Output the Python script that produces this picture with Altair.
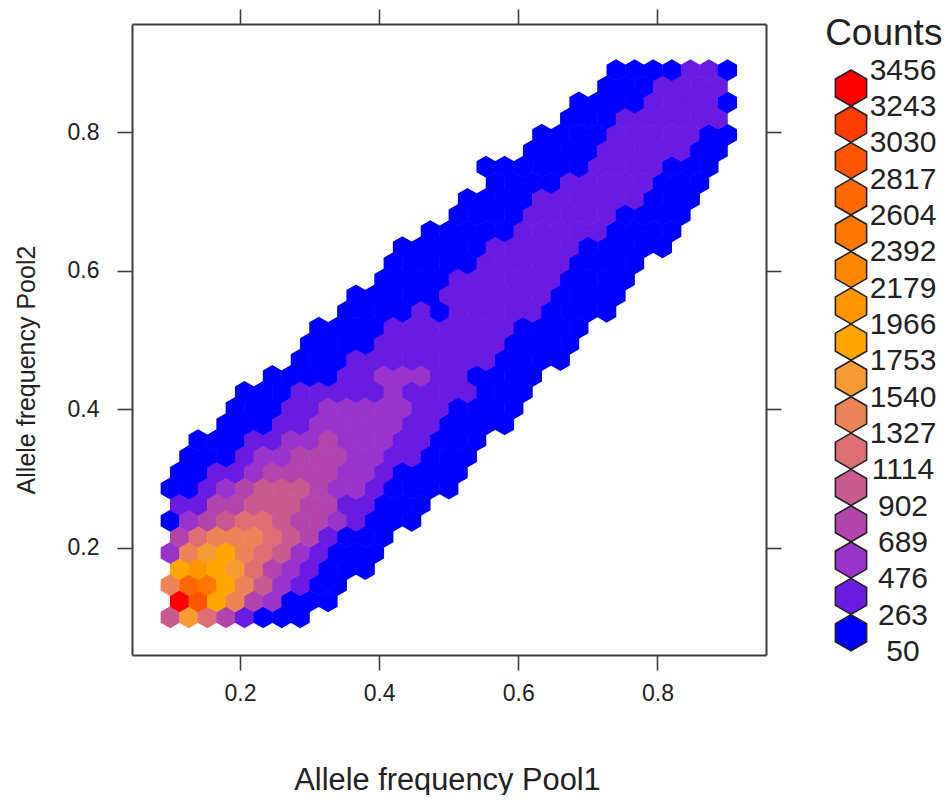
import altair as alt
import pandas as pd

# legend break labels, bottom to top
breaks = [50, 263, 476, 689, 902, 1114, 1327, 1540, 1753, 1966, 2179, 2392, 2604, 2817, 3030, 3243, 3456]
colors = ["#0000ff", "#6a1be2", "#9933cc", "#b245ac", "#c85a8e", "#de6e73", "#ec8458", "#f89a32",
          "#ffa500", "#ff9600", "#ff8700", "#ff7700", "#ff6800", "#ff5500", "#ff3c00", "#ff0000"]

# hexbin table: first bin of each row, and the legend class of each bin in that row (base 16)
row_starts = [0, 0, 0, 0, 0, 0, 0, 0, 0, 0, 1, 1, 3, 3, 4, 5, 7, 7, 8, 9, 10, 11, 12, 12, 14, 15, 16, 17, 17, 19, 20, 21, 22, 23, 24]
row_classes = [
    "47531000", "fd8632000", "6cb8642100", "89875321000", "267865421000", "356665431000",
    "02345543321000", "11334443311000", "0012344432210000", "0011233332210000",
    "0001223332211000", "0001122322211000", "0001122222110000", "0001122222110000",
    "0001111121111000", "000011222110000", "000111111110000", "000011111110000",
    "000011111110000", "000010111110000", "000001111110000", "00001111110000",
    "00000111110000", "000001111100000", "00000111110000", "0000111110000",
    "0000111111000", "000011111000", "0000001111000", "00001111100", "00001111100",
    "000111111", "000011110", "0001111", "0000110",
]

x0, dx = 0.0997, 0.0267
y0, dy = 0.0993, 0.02323

cells = []
for r, (start, codes) in enumerate(zip(row_starts, row_classes)):
    for i, c in enumerate(codes):
        cls = int(c, 16)
        cells.append({
            "pool1": x0 + (start + i + 0.5 * (r % 2)) * dx,
            "pool2": y0 + r * dy,
            "counts": (breaks[cls] + breaks[cls + 1]) / 2,
        })
hex_df = pd.DataFrame(cells)

HEX = "M0,-1L0.866,-0.5L0.866,0.5L0,1L-0.866,0.5L-0.866,-0.5Z"
FONT = "Liberation Sans"
INK = "#222222"
dom = [0.0448, 0.956]
ticks = [0.2, 0.4, 0.6, 0.8]
color_scale = alt.Scale(type="threshold", domain=breaks[1:-1], range=colors)

common = dict(domain=True, domainColor="#3c3c3c", domainWidth=2, ticks=True, tickColor="#3c3c3c",
              tickWidth=1.6, tickSize=15, grid=False, values=ticks, format=".1f")

hexes = alt.Chart(hex_df).mark_point(shape=HEX, filled=True, opacity=1, size=486, strokeWidth=0).encode(
    x=alt.X("pool1:Q", scale=alt.Scale(domain=dom, nice=False, zero=False),
            axis=alt.Axis(orient="bottom", title="Allele frequency Pool1", titleFont=FONT, titleFontSize=30.8,
                          titleFontWeight="normal", titleColor=INK, titlePadding=60, titleX=315,
                          labelFont=FONT, labelFontSize=23, labelColor=INK, labelPadding=12, **common)),
    y=alt.Y("pool2:Q", scale=alt.Scale(domain=dom, nice=False, zero=False),
            axis=alt.Axis(orient="left", title="Allele frequency Pool2", titleFont=FONT, titleFontSize=25,
                          titleFontWeight="normal", titleColor=INK, titlePadding=28, titleY=345.5,
                          labelFont=FONT, labelFontSize=23, labelColor=INK, labelPadding=18, **common)),
    fill=alt.Fill("counts:Q", scale=color_scale, legend=None),
)

frame = alt.Chart(hex_df).mark_point(opacity=0).encode(
    x=alt.X("pool1:Q", scale=alt.Scale(domain=dom, nice=False, zero=False),
            axis=alt.Axis(orient="top", title=None, labels=False, **common)),
    y=alt.Y("pool2:Q", scale=alt.Scale(domain=dom, nice=False, zero=False),
            axis=alt.Axis(orient="right", title=None, labels=False, **common)),
)

# legend: its own scales, mapped to the strip right of the panel
lx = alt.Scale(domain=[0, 1], range=[719, 771])
ly = alt.Scale(domain=[0, 15], range=[608.7, 64])

swatch_df = pd.DataFrame({"pos": list(range(16)), "col": [0] * 16, "lo": breaks[:-1]})
label_df = pd.DataFrame({"pos": [i - 0.5 for i in range(17)], "col": [1] * 17, "label": [str(b) for b in breaks]})
head_df = pd.DataFrame({"pos": [16.5], "col": [0.63], "label": ["Counts"]})

swatches = alt.Chart(swatch_df).mark_point(shape=HEX, filled=True, opacity=1, size=1300, stroke="#222222",
                                           strokeWidth=1.6).encode(
    x=alt.X("col:Q", scale=lx, axis=None),
    y=alt.Y("pos:Q", scale=ly, axis=None),
    fill=alt.Fill("lo:Q", scale=color_scale, legend=None),
)
labels = alt.Chart(label_df).mark_text(font=FONT, fontSize=30, color=INK, align="center", baseline="middle", dy=1).encode(
    x=alt.X("col:Q", scale=lx, axis=None),
    y=alt.Y("pos:Q", scale=ly, axis=None),
    text="label:N",
)
head = alt.Chart(head_df).mark_text(font=FONT, fontSize=37, color=INK, align="center", baseline="middle").encode(
    x=alt.X("col:Q", scale=lx, axis=None),
    y=alt.Y("pos:Q", scale=ly, axis=None),
    text="label:N",
)

chart = alt.layer(hexes, frame, swatches, labels, head).resolve_scale(
    x="independent", y="independent", fill="independent"
).properties(
    width=634, height=631,
    autosize=alt.AutoSizeParams(type="none"),
    padding={"left": 124, "top": 16, "right": 178, "bottom": 140},
    background="white",
).configure_view(stroke=None)

chart.save("out.html", embed_options={"renderer": "svg", "actions": False})
